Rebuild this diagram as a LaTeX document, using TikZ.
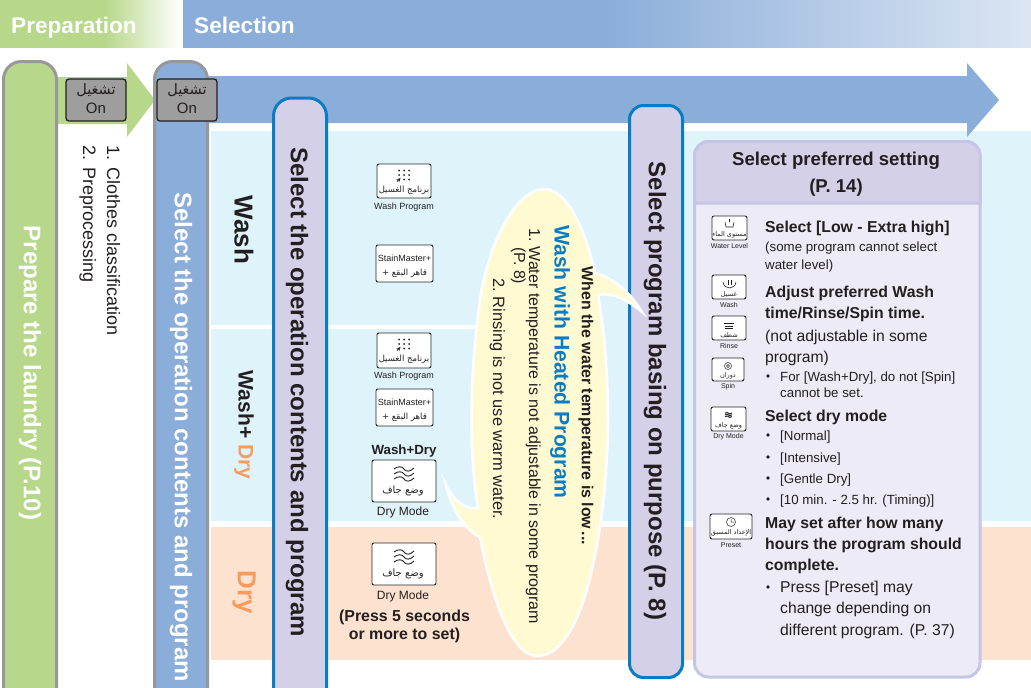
\documentclass[tikz,border=0pt]{standalone}
\usepackage{fontspec}
\setmainfont{Liberation Sans}
\newfontfamily\arabicfont[Script=Arabic]{DejaVu Sans}
\TeXXeTstate=1
\definecolor{prepgreen}{HTML}{B7D88A}
\definecolor{selblue}{HTML}{8AADD9}
\definecolor{palefade}{HTML}{DCE6F3}
\definecolor{washpale}{HTML}{DFF3FB}
\definecolor{drypeach}{HTML}{FDE2D0}
\definecolor{lilac}{HTML}{D3D0E7}
\definecolor{lilacpale}{HTML}{EDECF6}
\definecolor{lilacedge}{HTML}{C5C5E5}
\definecolor{edgeblue}{HTML}{0A7CC1}
\definecolor{edgegray}{HTML}{98989A}
\definecolor{dryorange}{HTML}{F89B5C}
\definecolor{bubbleyellow}{HTML}{FFFAD2}
\definecolor{inkdark}{HTML}{231F20}
\newcommand{\arabtext}[1]{{\arabicfont\beginR #1\endR}}
\newcommand{\pxfont}[1]{\fontsize{#1}{#1}\selectfont}
\tikzset{
  columnbox/.style={rounded corners=18pt,line width=3pt},
  coltext/.style={rotate=-90,font=\pxfont{24}\bfseries},
  sidetext/.style={rotate=-90,font=\pxfont{18},text=inkdark,anchor=base west},
  onkey/.style={draw=inkdark,fill=black!38,rounded corners=3pt,line width=1.3pt,minimum width=60pt,minimum height=42pt,inner sep=0pt},
  keybox/.style={draw=black!85,fill=white,rounded corners=2pt,line width=.9pt,inner sep=0pt},
  keyname/.style={font=\pxfont{9},text=inkdark,inner sep=0pt},
  tinyname/.style={font=\pxfont{7},text=inkdark,inner sep=0pt},
  tinyarab/.style={font=\pxfont{6.5},text=inkdark,inner sep=0pt},
  boldline/.style={anchor=base west,inner sep=0pt,font=\pxfont{15.8}\bfseries,text=inkdark},
  smallline/.style={anchor=base west,inner sep=0pt,font=\pxfont{13.3},text=inkdark},
  midline/.style={anchor=base west,inner sep=0pt,font=\pxfont{15.7},text=inkdark},
  dotbullet/.style={circle,fill=inkdark,inner sep=1.3pt},
  waves/.pic={
    \foreach \k in {-1,0,1}
      \draw[line width=.9pt,inkdark] (-10,\k*5) .. controls (-6,\k*5-3) and (-2,\k*5-3) .. (0,\k*5) .. controls (2,\k*5+3) and (6,\k*5+3) .. (10,\k*5-1);
  },
  keydots/.pic={
    \foreach \a/\b in {0/-1,1/-1,-1/-1,0/0,1/0,-1/0,0/1,1/1}
      \fill[inkdark] (\a*5,\b*4.5) circle (1pt);
    \draw[-stealth,line width=.8pt,inkdark] (-7,6.5) -- (-3.5,3);
  }
}
\begin{document}
\begin{tikzpicture}[x=1pt,y=-1pt]
  \useasboundingbox (0,0) rectangle (1031,688);
  \clip (0,0) rectangle (1031,688);
  % header bands
  \fill[prepgreen] (0,0) rectangle (105,48);
  \shade[left color=prepgreen,right color=white] (105,0) rectangle (181,48);
  \fill[selblue] (183,0) rectangle (600,48);
  \shade[left color=selblue,right color=palefade] (600,0) rectangle (1031,48);
  \fill[white] (0,48) rectangle (1031,56);
  \node (prep) at (11,33) [anchor=base west,inner sep=0pt,text=white,font=\pxfont{22.6}\bfseries] {Preparation};
  \node (sel) at (194,33) [anchor=base west,inner sep=0pt,text=white,font=\pxfont{22.6}\bfseries] {Selection};
  % panels
  \fill[washpale] (211,131) rectangle (1031,521);
  \fill[drypeach] (211,527) rectangle (1031,660);
  \fill[white] (211,325) rectangle (480,329);
  % arrows
  \fill[prepgreen] (50,77) -- (127,77) -- (127,63) -- (155,100) -- (127,137) -- (127,124) -- (50,124) -- cycle;
  \fill[selblue] (200,76) -- (967,76) -- (967,63) -- (999,100) -- (967,137) -- (967,123) -- (200,123) -- cycle;
  % columns
  \draw[columnbox,draw=edgegray,fill=prepgreen] (3.5,720) -- (3.5,61.5) -- (56.5,61.5) -- (56.5,720);
  \draw[columnbox,draw=edgegray,fill=selblue] (154.5,720) -- (154.5,61.5) -- (207.5,61.5) -- (207.5,720);
  \draw[columnbox,draw=edgeblue,fill=lilac] (273.5,730) -- (273.5,98) -- (326.5,98) -- (326.5,730);
  \draw[columnbox,draw=edgeblue,fill=lilac,rounded corners=14pt] (629.5,105.5) rectangle (682.5,677.5);
  \node (coprep) at (30,373) [coltext,text=white] {Prepare the laundry (P.10)};
  \node (cosel) at (181,437) [coltext,text=white] {Select the operation contents and program};
  \node (coop) at (297,392) [coltext,text=inkdark] {Select the operation contents and program};
  \node (copurp) at (655,391) [coltext,text=inkdark] {Select program basing on purpose (P. 8)};
  % on keys
  \node (onleft) at (96,100) [onkey] {};
  \node (onright) at (187,100) [onkey] {};
  \node (onleftar) at (96,90) [inner sep=0pt,font=\pxfont{14.5},text=inkdark] {\arabtext{تشغيل}};
  \node (onlefttx) at (96,108) [inner sep=0pt,font=\pxfont{15},text=inkdark] {On};
  \node (onrightar) at (187,90) [inner sep=0pt,font=\pxfont{14.5},text=inkdark] {\arabtext{تشغيل}};
  \node (onrighttx) at (187,108) [inner sep=0pt,font=\pxfont{15},text=inkdark] {On};
  \node (clothes) at (107,142) [sidetext] {1. Clothes classification};
  \node (preproc) at (83,142) [sidetext] {2. Preprocessing};
  % row names
  \node (rowwash) at (244,230) [coltext,text=inkdark,font=\pxfont{26}\bfseries] {Wash};
  \node (rowboth) at (244,425) [coltext,text=inkdark,font=\pxfont{21}\bfseries] {Wash+ \textcolor{dryorange}{Dry}};
  \node (rowdry) at (244,592) [coltext,text=dryorange,font=\pxfont{26}\bfseries] {Dry};
  % keys in the rows
  \node (progone) at (404,181) [keybox,minimum width=54pt,minimum height=34pt] {};
  \pic at (404,175) {keydots};
  \node (progonear) at (404,190) [inner sep=0pt,font=\pxfont{8.5},text=inkdark] {\arabtext{برنامج الغسيل}};
  \node (progonetx) at (404,207) [keyname] {Wash Program};
  \node (stainone) at (404.5,263.5) [keybox,minimum width=57pt,minimum height=37pt] {};
  \node (stainonetx) at (404.5,258) [keyname] {StainMaster+};
  \node (stainonear) at (404.5,273) [inner sep=0pt,font=\pxfont{8.5},text=inkdark] {\arabtext{قاهر البقع +}};
  \node (progtwo) at (404,350.5) [keybox,minimum width=54pt,minimum height=35pt] {};
  \pic at (404,344) {keydots};
  \node (progtwoar) at (404,359) [inner sep=0pt,font=\pxfont{8.5},text=inkdark] {\arabtext{برنامج الغسيل}};
  \node (progtwotx) at (404,376) [keyname] {Wash Program};
  \node (staintwo) at (404.5,407.5) [keybox,minimum width=57pt,minimum height=37pt] {};
  \node (staintwotx) at (404.5,402) [keyname] {StainMaster+};
  \node (staintwoar) at (404.5,417) [inner sep=0pt,font=\pxfont{8.5},text=inkdark] {\arabtext{قاهر البقع +}};
  \node (bothname) at (404,451) [inner sep=0pt,font=\pxfont{13.3}\bfseries,text=inkdark] {Wash+Dry};
  \node (dryone) at (404,481) [keybox,minimum width=64pt,minimum height=42pt] {};
  \pic at (404,474) {waves};
  \node (dryonear) at (403,491) [inner sep=0pt,font=\pxfont{10},text=inkdark] {\arabtext{وضع جاف}};
  \node (dryonetx) at (403,512) [inner sep=0pt,font=\pxfont{12},text=inkdark] {Dry Mode};
  \node (drytwo) at (404,564) [keybox,minimum width=64pt,minimum height=42pt] {};
  \pic at (404,557) {waves};
  \node (drytwoar) at (403,574) [inner sep=0pt,font=\pxfont{10},text=inkdark] {\arabtext{وضع جاف}};
  \node (drytwotx) at (403,596) [inner sep=0pt,font=\pxfont{12},text=inkdark] {Dry Mode};
  \node (pressa) at (404.5,617) [inner sep=0pt,font=\pxfont{15.9}\bfseries,text=inkdark] {(Press 5 seconds};
  \node (pressb) at (404.5,635) [inner sep=0pt,font=\pxfont{15.9}\bfseries,text=inkdark] {or more to set)};
  % bubble
  \draw[white,line width=2.5pt,fill=bubbleyellow] (545,189) .. controls (570,190) and (588,240) .. (595,273)
    .. controls (615,278) and (632,295) .. (642,312)
    .. controls (628,300) and (612,292) .. (598,295)
    .. controls (604,330) and (608,370) .. (608,420)
    .. controls (608,500) and (590,656) .. (537,656)
    .. controls (510,656) and (490,590) .. (480,537)
    .. controls (465,530) and (452,510) .. (446,485)
    .. controls (453,500) and (465,510) .. (478,508)
    .. controls (468,450) and (470,370) .. (480,300)
    .. controls (488,245) and (515,189) .. (545,189) -- cycle;
  \node (bubhead) at (586,406) [rotate=-90,inner sep=0pt,font=\pxfont{15.9}\bfseries,text=inkdark] {When the water temperature is low\,...};
  \node (bubtitle) at (560,362) [rotate=-90,inner sep=0pt,font=\pxfont{21.2}\bfseries,text=edgeblue] {Wash with Heated Program};
  \node (bubone) at (529,228) [sidetext,inner sep=0pt,font=\pxfont{16}] {1.\hspace{5pt}Water temperature is not adjustable in some program};
  \node (bubonep) at (514,247) [sidetext,inner sep=0pt,font=\pxfont{16}] {(P. 8)};
  \node (bubtwo) at (493,278) [sidetext,inner sep=0pt,font=\pxfont{16.4}] {2.\hspace{5pt}Rinsing is not use warm water.};
  % settings panel
  \draw[lilacedge,line width=3pt,fill=lilacpale,rounded corners=14pt] (694.5,141.5) rectangle (980,677);
  \draw[lilacedge,line width=3pt,fill=lilac] (694.5,203) -- (694.5,155) [rounded corners=14pt] -- (694.5,141.5) -- (980,141.5) [sharp corners] -- (980,203) -- cycle;
  \node (setone) at (836,165) [anchor=base,inner sep=0pt,font=\pxfont{18.6}\bfseries,text=inkdark] {Select preferred setting};
  \node (settwo) at (836,192) [anchor=base,inner sep=0pt,font=\pxfont{18.6}\bfseries,text=inkdark] {(P. 14)};
  \foreach \ypos/\txt [count=\i] in {232/{Select [Low - Extra high]},297/{Adjust preferred Wash},318/{time/Rinse/Spin time.},421/{Select dry mode},528/{May set after how many},549/{hours the program should},570/{complete.}}
    \node (bold\i) at (765,\ypos) [boldline] {\txt};
  \foreach \ypos/\txt [count=\i] in {251/{(some program cannot select},269/{water level)}}
    \node (small\i) at (765,\ypos) [smallline] {\txt};
  \foreach \ypos/\txt [count=\i] in {341/{(not adjustable in some},362/{program)}}
    \node (mid\i) at (765,\ypos) [midline] {\txt};
  \foreach \ypos/\txt [count=\i] in {381/{For [Wash+Dry], do not [Spin]},397/{cannot be set.},440/{[Normal]},462/{[Intensive]},483/{[Gentle Dry]},504/{[10 min. - 2.5 hr. (Timing)]}}
    \node (item\i) at (780,\ypos) [smallline] {\txt};
  \foreach \ypos/\txt [count=\i] in {592/{Press [Preset] may},613/{change depending on},635/{different program. (P. 37)}}
    \node (press\i) at (780,\ypos) [midline] {\txt};
  \foreach \ypos [count=\i] in {376,435,457,478,499,587}
    \node (bullet\i) at (768,\ypos) [dotbullet] {};
  % small keys
  \node (keywater) at (729.5,228) [keybox,minimum width=35pt,minimum height=24pt] {};
  \draw[inkdark,line width=.6pt] (725,222) -- (726,227) -- (733,227) -- (734,222) (729.5,219) -- (729.5,222);
  \node (keywaterar) at (729.5,235) [tinyarab] {\arabtext{مستوى الماء}};
  \node (keywatertx) at (729.5,245.5) [tinyname] {Water Level};
  \node (keywash) at (729,287) [keybox,minimum width=34pt,minimum height=24pt] {};
  \draw[inkdark,line width=1pt] (728,280) -- (728,285) (731,280) -- (731,285);
  \draw[inkdark,line width=.6pt] (723,282) .. controls (724,290) and (735,290) .. (736,282);
  \node (keywashar) at (729,295) [tinyarab] {\arabtext{غسيل}};
  \node (keywashtx) at (729,304.5) [tinyname] {Wash};
  \node (keyrinse) at (729,328) [keybox,minimum width=34pt,minimum height=24pt] {};
  \draw[inkdark,line width=.8pt] (724,323) -- (734,323) (725,326) -- (733,326) (725,328) -- (733,328);
  \node (keyrinsear) at (729,335) [tinyarab] {\arabtext{شطف}};
  \node (keyrinsetx) at (729,346) [tinyname] {Rinse};
  \node (keyspin) at (728,369.5) [keybox,minimum width=32pt,minimum height=23pt] {};
  \draw[inkdark,line width=.5pt] (728,366) circle (3.5pt) (728,366) circle (1.5pt);
  \node (keyspinar) at (728,376) [tinyarab] {\arabtext{دوران}};
  \node (keyspintx) at (728,386.5) [tinyname] {Spin};
  \node (keydry) at (728.5,419) [keybox,minimum width=35pt,minimum height=24pt] {};
  \pic at (728.5,415) [scale=.35] {waves};
  \node (keydryar) at (728.5,426) [tinyarab] {\arabtext{وضع جاف}};
  \node (keydrytx) at (728.5,436.5) [tinyname] {Dry Mode};
  \node (keypreset) at (731,526.5) [keybox,minimum width=42pt,minimum height=25pt] {};
  \draw[inkdark,line width=.5pt] (731,522) circle (4.5pt) (731,522) -- (731,519) (731,522) -- (734,522);
  \node (keypresetar) at (731,533) [tinyarab] {\arabtext{الإعداد المسبق}};
  \node (keypresettx) at (731,545) [tinyname] {Preset};
\end{tikzpicture}
\end{document}
